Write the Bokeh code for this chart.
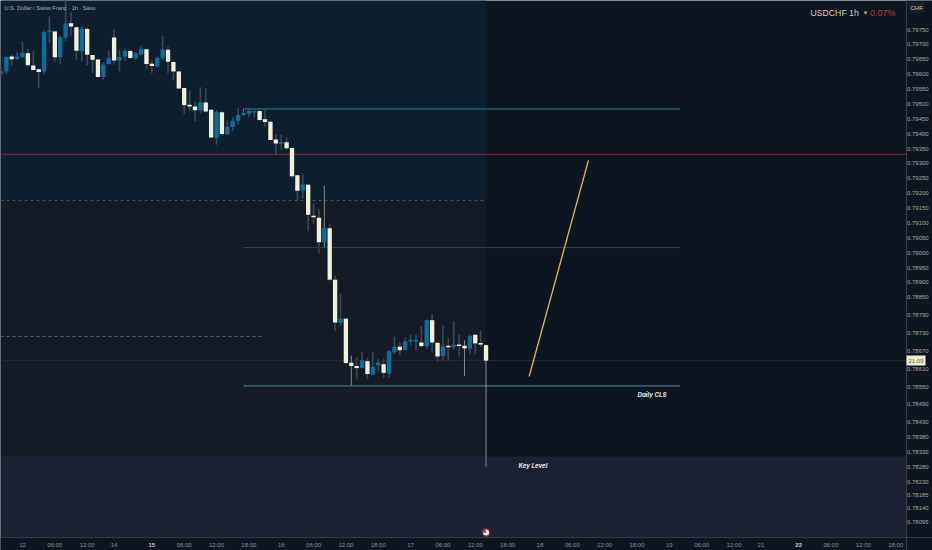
from bokeh.core.properties import value
from bokeh.embed import file_html
from bokeh.models import ColumnDataSource, Label
from bokeh.plotting import figure
from bokeh.resources import INLINE

# bars are counted in hours, 0 is the "12" tick
bar_index = list(range(-4, 87))
opens = [0.79601, 0.79609, 0.79659, 0.79651, 0.79657, 0.79670, 0.79629, 0.79616, 0.79609, 0.79741,
         0.79743, 0.79657, 0.79722, 0.79771, 0.79758, 0.79677, 0.79752, 0.79664, 0.79649, 0.79590,
         0.79634, 0.79723, 0.79646, 0.79659, 0.79678, 0.79653, 0.79666, 0.79684, 0.79635, 0.79626,
         0.79653, 0.79682, 0.79641, 0.79609, 0.79553, 0.79497, 0.79491, 0.79479, 0.79505, 0.79480,
         0.79386, 0.79472, 0.79398, 0.79422, 0.79443, 0.79463, 0.79467, 0.79472, 0.79476, 0.79448,
         0.79440, 0.79380, 0.79366, 0.79371, 0.79352, 0.79260, 0.79209, 0.79228, 0.79124, 0.79117,
         0.79034, 0.79082, 0.78909, 0.78764, 0.78778, 0.78630, 0.78619, 0.78613, 0.78635, 0.78590,
         0.78621, 0.78625, 0.78593, 0.78665, 0.78684, 0.78673, 0.78702, 0.78701, 0.78698, 0.78686,
         0.78773, 0.78697, 0.78652, 0.78687, 0.78682, 0.78691, 0.78687, 0.78678, 0.78724, 0.78696,
         0.78689]
highs = [0.79626, 0.79663, 0.79666, 0.79674, 0.79709, 0.79685, 0.79679, 0.79618, 0.79749, 0.79794,
         0.79744, 0.79730, 0.79853, 0.79808, 0.79760, 0.79763, 0.79758, 0.79665, 0.79650, 0.79640,
         0.79679, 0.79752, 0.79683, 0.79685, 0.79682, 0.79674, 0.79696, 0.79685, 0.79646, 0.79659,
         0.79730, 0.79693, 0.79648, 0.79610, 0.79554, 0.79545, 0.79509, 0.79556, 0.79552, 0.79483,
         0.79480, 0.79474, 0.79444, 0.79455, 0.79487, 0.79472, 0.79483, 0.79478, 0.79480, 0.79482,
         0.79442, 0.79397, 0.79397, 0.79388, 0.79355, 0.79263, 0.79265, 0.79229, 0.79166, 0.79145,
         0.79225, 0.79095, 0.78923, 0.78864, 0.78779, 0.78654, 0.78649, 0.78666, 0.78645, 0.78668,
         0.78641, 0.78643, 0.78673, 0.78718, 0.78697, 0.78714, 0.78724, 0.78725, 0.78753, 0.78775,
         0.78794, 0.78699, 0.78757, 0.78714, 0.78769, 0.78725, 0.78705, 0.78724, 0.78726, 0.78738,
         0.78691]
lows = [0.79590, 0.79599, 0.79629, 0.79648, 0.79655, 0.79626, 0.79612, 0.79554, 0.79599, 0.79704,
        0.79642, 0.79632, 0.79711, 0.79730, 0.79648, 0.79644, 0.79629, 0.79603, 0.79588, 0.79581,
        0.79632, 0.79632, 0.79610, 0.79644, 0.79651, 0.79648, 0.79663, 0.79620, 0.79603, 0.79623,
        0.79648, 0.79603, 0.79579, 0.79551, 0.79467, 0.79478, 0.79442, 0.79469, 0.79472, 0.79386,
        0.79363, 0.79394, 0.79394, 0.79408, 0.79431, 0.79460, 0.79455, 0.79455, 0.79444, 0.79422,
        0.79377, 0.79330, 0.79346, 0.79346, 0.79251, 0.79175, 0.79181, 0.79072, 0.79097, 0.78998,
        0.79018, 0.78906, 0.78736, 0.78755, 0.78626, 0.78554, 0.78574, 0.78612, 0.78574, 0.78590,
        0.78601, 0.78579, 0.78579, 0.78660, 0.78654, 0.78671, 0.78687, 0.78671, 0.78682, 0.78676,
        0.78664, 0.78634, 0.78637, 0.78637, 0.78673, 0.78651, 0.78585, 0.78660, 0.78660, 0.78682,
        0.78281]
closes = [0.79610, 0.79658, 0.79650, 0.79659, 0.79672, 0.79630, 0.79614, 0.79607, 0.79741, 0.79747,
          0.79657, 0.79724, 0.79771, 0.79760, 0.79679, 0.79752, 0.79665, 0.79648, 0.79590, 0.79632,
          0.79653, 0.79646, 0.79658, 0.79679, 0.79654, 0.79669, 0.79685, 0.79634, 0.79627, 0.79654,
          0.79683, 0.79642, 0.79609, 0.79552, 0.79495, 0.79491, 0.79479, 0.79505, 0.79474, 0.79387,
          0.79472, 0.79399, 0.79423, 0.79443, 0.79463, 0.79469, 0.79477, 0.79476, 0.79446, 0.79439,
          0.79379, 0.79367, 0.79371, 0.79351, 0.79257, 0.79208, 0.79229, 0.79127, 0.79119, 0.79035,
          0.79083, 0.78909, 0.78765, 0.78778, 0.78629, 0.78619, 0.78612, 0.78638, 0.78592, 0.78617,
          0.78630, 0.78596, 0.78668, 0.78683, 0.78672, 0.78702, 0.78707, 0.78707, 0.78686, 0.78773,
          0.78698, 0.78651, 0.78685, 0.78682, 0.78691, 0.78686, 0.78678, 0.78720, 0.78695, 0.78691,
          0.78637]
thin_wicks = [56, 61, 82, 86]

price_ticks = [0.79750, 0.79700, 0.79650, 0.79600, 0.79550, 0.79500, 0.79450, 0.79400, 0.79350,
               0.79300, 0.79250, 0.79200, 0.79150, 0.79100, 0.79050, 0.79000, 0.78950, 0.78900,
               0.78850, 0.78790, 0.78730, 0.78670, 0.78610, 0.78550, 0.78490, 0.78430, 0.78380,
               0.78330, 0.78280, 0.78230, 0.78185, 0.78140, 0.78095]
time_ticks = {0: "12", 6: "06:00", 12: "12:00", 17: "14", 30: "06:00", 36: "12:00", 42: "18:00",
              48: "16", 54: "06:00", 60: "12:00", 66: "18:00", 72: "17", 78: "06:00", 84: "12:00",
              90: "18:00", 96: "18", 102: "06:00", 108: "12:00", 114: "18:00", 120: "19",
              126: "06:00", 132: "12:00", 137: "21", 150: "06:00", 156: "12:00", 162: "18:00"}
bold_ticks = {24: "15", 144: "22"}

last_bar = 86
level_top = 0.79483
level_red = 0.79330
level_dash_1 = 0.79175
level_mid = 0.79017
level_dash_2 = 0.78718
level_last = 0.78637
level_cls = 0.78552
zone_top = 0.78315
path_x = [94, 105]
path_y = [0.78584, 0.79310]

X_MIN, X_MAX = -4.08, 168.83
Y_MIN, Y_MAX = 0.779988, 0.798475


# annotation spots are given in the picture's pixels
def px_x(px):
    return (px - 22) / 5.39


def px_y(py):
    return 0.798475 - py * 3.3613e-5


# the price and time scales sit inside the one frame, so tags and bold labels can lie on them
p = figure(width=932, height=550, x_range=(X_MIN, X_MAX), y_range=(Y_MIN, Y_MAX),
           output_backend="svg", toolbar_location=None,
           min_border_left=0, min_border_top=0, min_border_right=0, min_border_bottom=0)
p.axis.visible = False
p.grid.visible = False
p.background_fill_color = "#0d1620"
p.border_fill_color = "#0d1620"
p.outline_line_color = None

# shaded zones
p.quad(left=[X_MIN], right=[last_bar], bottom=[zone_top], top=[level_dash_1], color="#141b27", line_color=None)
p.quad(left=[X_MIN], right=[last_bar], bottom=[level_dash_1], top=[Y_MAX], color="#0d1f2e", line_color=None)
p.quad(left=[X_MIN], right=[X_MAX], bottom=[Y_MIN], top=[zone_top], color="#1b2133", line_color=None)

p.line([X_MIN, px_x(906)], [level_last, level_last], line_color="#232b36", line_width=1)
p.line([X_MIN, px_x(906)], [level_red, level_red], line_color="#7c1f2b", line_width=1.2)
p.line([X_MIN, last_bar], [level_dash_1, level_dash_1], line_color="#4b525b", line_width=1, line_dash="3 3")
p.line([X_MIN, 44.5], [level_dash_2, level_dash_2], line_color="#5a6068", line_width=1, line_dash="3 3")
p.line([41, 41, 122], [level_top - 0.00013, level_top, level_top], line_color="#2f7f8c", line_width=1)
p.line([41, 122], [level_mid, level_mid], line_color="#26484f", line_width=1)
p.line([41, 122], [level_cls, level_cls], line_color="#4c8890", line_width=1)
p.line(path_x, path_y, line_color="#e8b55c", line_width=1.3)

colors = ["#f3f0da" if c < o else "#0b6f9e" for o, c in zip(opens, closes)]
wick_colors = ["#868b90" if i in thin_wicks else "#3c4751" for i in bar_index]
wick_widths = [1 if i in thin_wicks else 1.6 for i in bar_index]
source = ColumnDataSource(dict(x=bar_index, open=opens, close=closes, high=highs, low=lows,
                               color=colors, wick=wick_colors, wick_width=wick_widths))
p.segment("x", "high", "x", "low", source=source, line_color="wick", line_width="wick_width")
p.vbar("x", 0.8, "open", "close", source=source, fill_color="color", line_color=None)

# price scale
p.quad(left=[px_x(906)], right=[X_MAX], bottom=[Y_MIN], top=[Y_MAX], color="#0d1620", line_color=None)
p.quad(left=[X_MIN], right=[X_MAX], bottom=[Y_MIN], top=[px_y(537)], color="#0d1620", line_color=None)
p.line([px_x(906), px_x(906)], [Y_MIN, Y_MAX], line_color="#353a45", line_width=1.2)
p.line([X_MIN, X_MAX], [px_y(537), px_y(537)], line_color="#353a45", line_width=1.2)
price_x = [px_x(906.5)] * len(price_ticks)
p.text(price_x, price_ticks, text=["%.5f" % t for t in price_ticks], text_font=value("Liberation Sans"),
       text_font_size="6px", text_color="#a2a6aa", text_baseline="middle", text_align="left")

# time scale
p.text(list(time_ticks), [px_y(544)] * len(time_ticks), text=list(time_ticks.values()),
       text_font=value("Liberation Sans"), text_font_size="6px", text_color="#8d9196",
       text_baseline="middle", text_align="center")
p.text(list(bold_ticks), [px_y(544)] * len(bold_ticks), text=list(bold_ticks.values()),
       text_font=value("Liberation Sans"), text_font_size="6px", text_font_style="bold",
       text_color="#c8cacc", text_baseline="middle", text_align="center")


def note(text, px, py, size, color, align="left", style="normal", font="Liberation Sans", **kw):
    p.add_layout(Label(x=px_x(px), y=px_y(py), text=text, text_font=font, text_font_size=size,
                       text_color=color, text_align=align, text_baseline="middle",
                       text_font_style=style, **kw))


note("U.S. Dollar / Swiss Franc · 1h · Saxo", 4, 7, "5.6px", "#b0b3b3")
note("USDCHF 1h", 810, 12, "8.7px", "#cfcfca")
note("▼", 862, 12, "6px", "#d2a63c")
note("0.07%", 895, 12, "9px", "#b8393f", align="right")
note("Daily CLS", 637, 394, "6.2px", "#e8e8e0", style="bold italic", font="Inter")
note("Key Level", 518, 465, "6.2px", "#e8e8e0", style="bold italic", font="Inter")
note("CHF", 908, 7, "6px", "#c4c6c8", background_fill_color="#1a2029", padding=2)
note("21:09", 906, 360, "6px", "#5c5c4c", background_fill_color="#f1edcf", padding=2)

# event flag on the last bar
flag_y = px_y(532)
p.scatter([last_bar], [flag_y], size=9, color="#8f1d28", line_color=None)
p.scatter([last_bar], [flag_y], size=6, color="#e8e6e0", line_color=None)
p.scatter([last_bar - 0.3], [flag_y + 0.00004], size=3, marker="square", color="#2a6fb0", line_color=None)

open("out.html", "w").write(file_html(p, INLINE))
